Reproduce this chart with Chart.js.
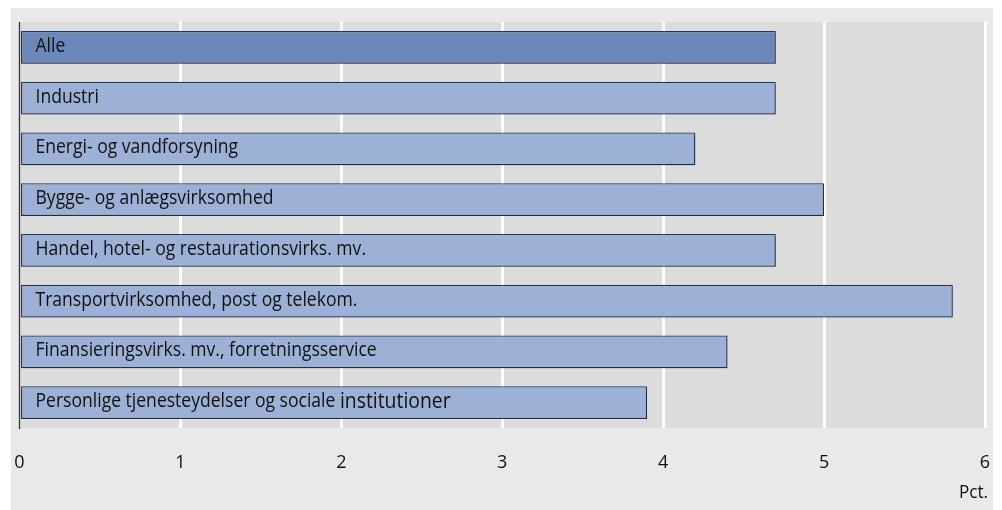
<!DOCTYPE html>
<html>
<head>
<meta charset="utf-8">
<script src="https://cdn.jsdelivr.net/npm/chart.js@4"></script>
<style>
  html, body { margin: 0; padding: 0; background: #fff; }
  #wrap { width: 1002px; height: 510px; position: relative; }
</style>
</head>
<body>
<div id="wrap"><canvas id="chartBar" width="1002" height="510"></canvas></div>
<script>
// sectors (top to bottom) and their values in pct.
const categories = [
  "Alle",
  "Industri",
  "Energi- og vandforsyning",
  "Bygge- og anlægsvirksomhed",
  "Handel, hotel- og restaurationsvirks. mv.",
  "Transportvirksomhed, post og telekom.",
  "Finansieringsvirks. mv., forretningsservice",
  "Personlige tjenesteydelser og sociale institutioner"
];
const values = [4.7, 4.7, 4.2, 5.0, 4.7, 5.8, 4.4, 3.9];
const xTicks = [0, 1, 2, 3, 4, 5, 6];
const unitLabel = "Pct.";

const FONT = "'Open Sans', 'Noto Sans', sans-serif";

// draws text in a narrowed version of the font (the original uses a condensed face)
function condensedText(ctx, text, x, y, size, squeeze) {
  ctx.save();
  ctx.font = size + "px " + FONT;
  ctx.translate(x, y);
  ctx.scale(squeeze, 1);
  ctx.fillText(text, 0, 0);
  ctx.restore();
  ctx.font = size + "px " + FONT;
  return ctx.measureText(text).width * squeeze;
}

// backgrounds: white page, gray panel, darker plot area
const bgPlugin = {
  id: "bg",
  beforeDraw(chart) {
    const ctx = chart.ctx, a = chart.chartArea;
    ctx.save();
    ctx.fillStyle = "#ffffff";
    ctx.fillRect(0, 0, chart.width, chart.height);
    ctx.fillStyle = "#e9e9e9";
    ctx.fillRect(11, 8, 982, chart.height - 8);
    ctx.fillStyle = "#dcdcdc";
    ctx.fillRect(a.left, a.top, a.right - a.left, a.bottom - a.top);
    ctx.restore();
  },
  // soft drop shadow under the bars
  beforeDatasetsDraw(chart) {
    const ctx = chart.ctx;
    ctx.save();
    ctx.shadowColor = "rgba(0,0,0,0.18)";
    ctx.shadowOffsetX = 1;
    ctx.shadowOffsetY = 2;
    ctx.shadowBlur = 1;
  },
  afterDatasetsDraw(chart) {
    chart.ctx.restore();
  }
};

// left axis line, labels inside bars, unit text
const labelPlugin = {
  id: "barLabels",
  afterDatasetsDraw(chart) {
    const ctx = chart.ctx, a = chart.chartArea;
    const x0 = chart.scales.x.getPixelForValue(0);
    ctx.save();
    ctx.strokeStyle = "#333333";
    ctx.lineWidth = 1.5;
    ctx.beginPath();
    ctx.moveTo(x0, a.top);
    ctx.lineTo(x0, a.bottom + 1);
    ctx.stroke();

    ctx.fillStyle = "#111111";
    ctx.textBaseline = "middle";
    ctx.textAlign = "left";
    const meta = chart.getDatasetMeta(0);
    meta.data.forEach((bar, i) => {
      const words = categories[i].split(" ");
      // the last word of the last label is set a bit larger in the original
      if (i === categories.length - 1) {
        const last = words.pop();
        const w = condensedText(ctx, words.join(" ") + " ", x0 + 16, bar.y - 1, 19.5, 0.9);
        condensedText(ctx, last, x0 + 16 + w, bar.y - 1, 21.5, 0.9);
      } else {
        condensedText(ctx, categories[i], x0 + 16, bar.y - 1, 19.5, 0.9);
      }
    });

    ctx.textAlign = "right";
    condensedText(ctx, unitLabel, chart.scales.x.right + 3, 493, 19, 0.9);
    ctx.restore();
  }
};

const configBarChart = {
  type: "bar",
  data: {
    labels: categories,
    datasets: [{
      data: values,
      backgroundColor: values.map((v, i) => i === 0 ? "#6b88b8" : "#9db0d5"),
      borderColor: "#24365a",
      borderWidth: 1.3,
      borderSkipped: false,
      categoryPercentage: 1,
      barPercentage: 0.65
    }]
  },
  options: {
    indexAxis: "y",
    responsive: false,
    animation: false,
    layout: { padding: { top: 22, left: 19.5, right: 17, bottom: 0 } },
    plugins: { legend: { display: false }, tooltip: { enabled: false } },
    scales: {
      x: {
        min: 0,
        max: 6,
        afterBuildTicks: s => { s.ticks = xTicks.map(v => ({ value: v })); },
        afterFit: s => { s.height = 82; s.paddingLeft = 0; s.paddingRight = 0; },
        grid: { color: "#ffffff", lineWidth: 3, drawTicks: false },
        border: { display: false },
        ticks: { padding: 24, color: "#111111", font: { family: FONT, size: 18 } }
      },
      y: { display: false }
    }
  },
  plugins: [bgPlugin, labelPlugin]
};

new Chart(document.getElementById("chartBar"), configBarChart);
</script>
</body>
</html>
